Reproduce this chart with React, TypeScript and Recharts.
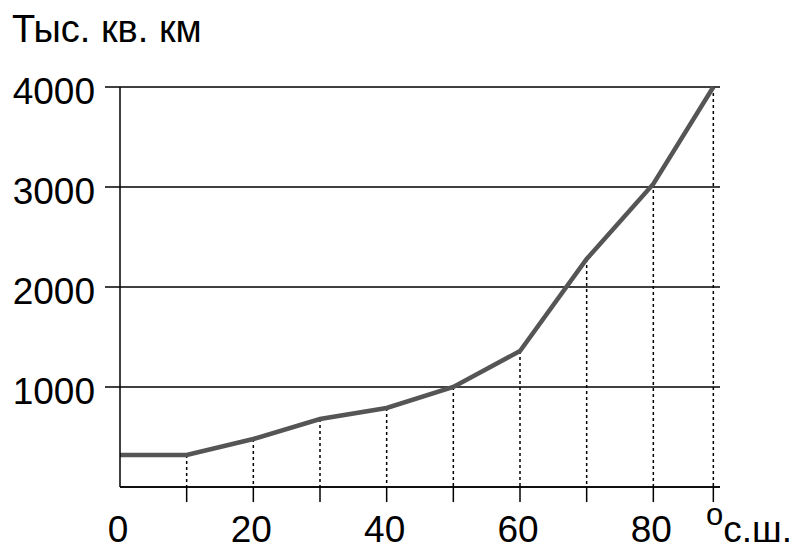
import React from 'react';
import { LineChart, Line, XAxis, YAxis, CartesianGrid, ReferenceLine } from 'recharts';

// Latitude (° N) and area (thousand sq. km)
const LATITUDES = [0, 10, 20, 30, 40, 50, 60, 70, 80, 89];
const AREAS = [320, 320, 480, 680, 790, 1000, 1360, 2280, 3030, 4000];
const X_TICKS = [10, 20, 30, 40, 50, 60, 70, 80, 89];
const X_LABELED = [0, 20, 40, 60, 80];
const Y_TICKS = [1000, 2000, 3000, 4000];
const Y_TITLE = 'Тыс. кв. км';
const X_UNIT_DEG = 'o';
const X_UNIT = 'с.ш.';

const data = LATITUDES.map((lat, i) => ({ lat, area: AREAS[i] }));

const FONT = 'Liberation Sans, Arial, sans-serif';

const XTick = (props: any) => {
  const { x, y, payload } = props;
  const v = payload.value;
  return (
    <g>
      {v > 0 && <line x1={x} x2={x} y1={y} y2={y + 15} stroke="#000" strokeWidth={1.5} />}
      {X_LABELED.includes(v) && (
        <text x={x - 2} y={y + 55} textAnchor="middle" fontSize={37} fontFamily={FONT} fill="#000">
          {v}
        </text>
      )}
    </g>
  );
};

const YTick = (props: any) => {
  const { x, y, payload } = props;
  return (
    <g>
      <line x1={x - 15} x2={x} y1={y} y2={y} stroke="#000" strokeWidth={1.5} />
      <text x={x - 25} y={y + 16.5} textAnchor="end" fontSize={37} fontFamily={FONT} fill="#000">
        {payload.value}
      </text>
    </g>
  );
};

export default function App() {
  return (
    <div style={{ position: 'absolute', left: 0, top: 0, width: 791, height: 545, background: '#fff' }}>
      <LineChart
        width={791}
        height={545}
        data={data}
        margin={{ top: 87, right: 71, bottom: 0, left: 0 }}
      >
        <CartesianGrid vertical={false} stroke="#000" strokeWidth={1.5} />
        <XAxis
          dataKey="lat"
          type="number"
          domain={[0, 90]}
          ticks={[0, ...X_TICKS]}
          interval={0}
          height={58}
          tickSize={0}
          tickMargin={0}
          tickLine={false}
          axisLine={{ stroke: '#000', strokeWidth: 1.5 }}
          tick={<XTick />}
          label={{
            position: 'insideBottomRight',
            content: () => (
              <text x={706} y={542} fontFamily={FONT} fill="#000">
                <tspan fontSize={31} dy={-17}>{X_UNIT_DEG}</tspan>
                <tspan fontSize={37} dy={17}>{X_UNIT}</tspan>
              </text>
            ),
          }}
        />
        <YAxis
          type="number"
          domain={[0, 4000]}
          ticks={Y_TICKS}
          interval={0}
          width={120}
          tickSize={0}
          tickMargin={0}
          tickLine={false}
          axisLine={{ stroke: '#000', strokeWidth: 1.5 }}
          tick={<YTick />}
          label={{
            position: 'insideTopLeft',
            content: () => (
              <text x={12} y={42} fontSize={38} fontFamily={FONT} fill="#000">
                {Y_TITLE}
              </text>
            ),
          }}
        />
        {data.slice(1).map((d) => (
          <ReferenceLine
            key={d.lat}
            segment={[{ x: d.lat, y: d.area }, { x: d.lat, y: 0 }]}
            stroke="#000"
            strokeWidth={1.5}
            strokeDasharray="3 3"
          />
        ))}
        <Line
          dataKey="area"
          type="linear"
          stroke="#555555"
          strokeWidth={4.5}
          dot={false}
          activeDot={false}
          isAnimationActive={false}
        />
      </LineChart>
    </div>
  );
}
